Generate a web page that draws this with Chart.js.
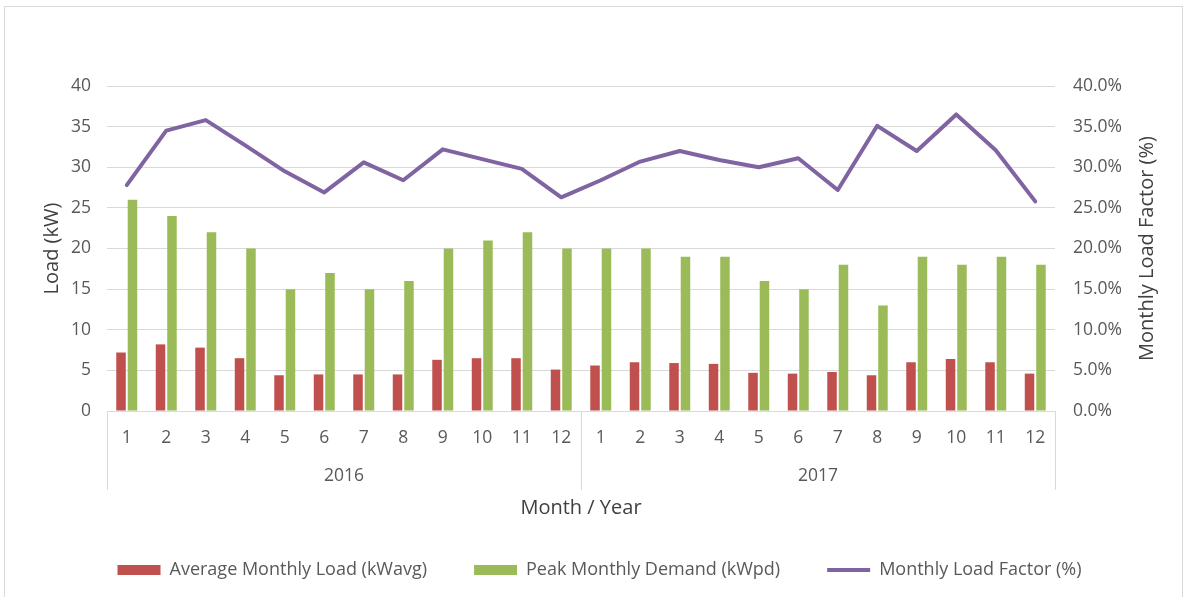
<!DOCTYPE html>
<html>
<head>
<meta charset="utf-8">
<script src="https://cdn.jsdelivr.net/npm/chart.js@4"></script>
<style>
  body { margin: 0; background: #fff; }
  #frame { position: absolute; left: 4px; top: 6px; width: 1177px; height: 600px; border: 1px solid #d9d9d9; }
  canvas { display: block; }
</style>
</head>
<body>
<div id="frame"><canvas id="loadChart" width="1177" height="590"></canvas></div>
<script>
const years = ['2016', '2017'];
const monthLabels = ['1', '2', '3', '4', '5', '6', '7', '8', '9', '10', '11', '12'];
const avgLoad = [7.2, 8.2, 7.8, 6.5, 4.4, 4.5, 4.5, 4.5, 6.3, 6.5, 6.5, 5.1,
                 5.6, 6.0, 5.9, 5.8, 4.7, 4.6, 4.8, 4.4, 6.0, 6.4, 6.0, 4.6];
const peakDemand = [26, 24, 22, 20, 15, 17, 15, 16, 20, 21, 22, 20,
                    20, 20, 19, 19, 16, 15, 18, 13, 19, 18, 19, 18];
const loadFactor = [27.8, 34.5, 35.8, 32.7, 29.5, 26.9, 30.6, 28.4, 32.2, 31.0, 29.8, 26.3,
                    28.4, 30.7, 32.0, 30.9, 30.0, 31.1, 27.2, 35.1, 32.0, 36.5, 32.1, 25.8];
const rightTitle = 'Monthly Load Factor (%)';

const labels = years.flatMap(() => monthLabels);
const gridGrey = '#d9d9d9';
const tickGrey = '#595959';
const titleGrey = '#404040';

Chart.defaults.font.family = '"Open Sans", sans-serif';
Chart.defaults.font.size = 17.5;
Chart.defaults.color = tickGrey;

// year separators under the month labels, like Excel's multi-level axis
const yearDividers = {
  id: 'yearDividers',
  afterDraw(chart) {
    const x = chart.scales.x;
    const x2 = chart.scales.x2;
    const ctx = chart.ctx;
    ctx.save();
    ctx.strokeStyle = gridGrey;
    ctx.lineWidth = 1;
    for (let i = 0; i <= years.length; i++) {
      const px = Math.round(x.left + (x.right - x.left) * i / years.length) + 0.5;
      ctx.beginPath();
      ctx.moveTo(px, x.top);
      ctx.lineTo(px, x2.bottom - 24);
      ctx.stroke();
    }
    ctx.restore();
  }
};

// right axis title reads bottom-to-top in the original
const rightAxisTitle = {
  id: 'rightAxisTitle',
  afterDraw(chart) {
    const y1 = chart.scales.y1;
    const area = chart.chartArea;
    const ctx = chart.ctx;
    ctx.save();
    ctx.translate(y1.right - 35, (area.top + area.bottom) / 2);
    ctx.rotate(-Math.PI / 2);
    ctx.font = '20px "Open Sans", sans-serif';
    ctx.fillStyle = titleGrey;
    ctx.textAlign = 'center';
    ctx.textBaseline = 'middle';
    ctx.fillText(rightTitle, 0, 0);
    ctx.restore();
  }
};

new Chart(document.getElementById('loadChart'), {
  type: 'bar',
  data: {
    labels: labels,
    datasets: [
      {
        label: 'Average Monthly Load (kWavg)',
        data: avgLoad,
        backgroundColor: '#c0504d',
        borderWidth: 0,
        pointStyle: 'rect',
        categoryPercentage: 0.58,
        barPercentage: 0.83,
        order: 1
      },
      {
        label: 'Peak Monthly Demand (kWpd)',
        data: peakDemand,
        backgroundColor: '#9bbb59',
        borderWidth: 0,
        pointStyle: 'rect',
        categoryPercentage: 0.58,
        barPercentage: 0.83,
        order: 1
      },
      {
        label: 'Monthly Load Factor (%)',
        type: 'line',
        data: loadFactor,
        yAxisID: 'y1',
        borderColor: '#8064a2',
        backgroundColor: '#8064a2',
        borderWidth: 4,
        pointRadius: 0,
        pointStyle: 'line',
        tension: 0,
        borderJoinStyle: 'round',
        borderCapStyle: 'round',
        order: 0
      }
    ]
  },
  options: {
    responsive: false,
    animation: false,
    layout: { padding: { top: 79, bottom: 8, left: 12 } },
    plugins: {
      tooltip: { enabled: false },
      legend: {
        position: 'bottom',
        labels: {
          usePointStyle: true,
          pointStyleWidth: 43,
          boxHeight: 10,
          padding: 47,
          color: tickGrey,
          font: { size: 18 },
          sort: (a, b) => a.datasetIndex - b.datasetIndex
        }
      }
    },
    scales: {
      x: {
        grid: { display: false, drawTicks: false },
        border: { display: true, color: gridGrey },
        ticks: { autoSkip: false, maxRotation: 0, padding: 17 },
        afterFit: s => { s.height = 36; }
      },
      x2: {
        type: 'category',
        labels: years,
        position: 'bottom',
        offset: true,
        grid: { display: false, drawTicks: false },
        border: { display: false },
        ticks: { padding: 19 },
        title: {
          display: true,
          text: 'Month / Year',
          color: titleGrey,
          font: { size: 20 },
          padding: { top: 0, bottom: -6 }
        },
        afterFit: s => { s.height = 67; }
      },
      y: {
        min: 0,
        max: 40,
        ticks: { stepSize: 5, padding: 16 },
        grid: { color: gridGrey, drawTicks: false },
        border: { display: false },
        title: {
          display: true,
          text: 'Load (kW)',
          color: titleGrey,
          font: { size: 20 },
          padding: { top: 23, bottom: 0 }
        },
        afterFit: s => { s.width = 90; }
      },
      y1: {
        position: 'right',
        min: 0,
        max: 40,
        ticks: { stepSize: 5, padding: 18, callback: v => v.toFixed(1) + '%' },
        grid: { display: false, drawTicks: false },
        border: { display: false },
        afterFit: s => { s.width = 127; }
      }
    }
  },
  plugins: [yearDividers, rightAxisTitle]
});
</script>
</body>
</html>
